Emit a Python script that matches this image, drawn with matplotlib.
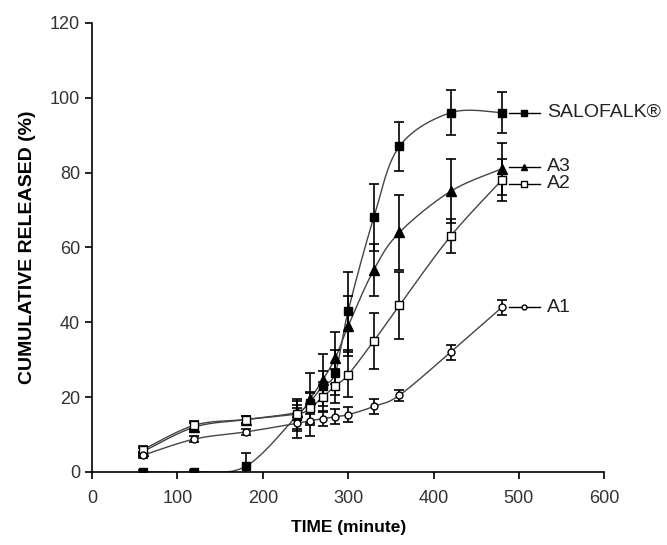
import numpy as np
import matplotlib.pyplot as plt

plt.rcParams['font.family'] = ['Liberation Sans', 'DejaVu Sans']

# sampling times (minute)
times = [60, 120, 180, 240, 255, 270, 285, 300, 330, 360, 420, 480]

# cumulative release (%) and error bars
salofalk = [0, 0, 1.5, 15, 18.5, 23, 26.5, 43, 68, 87, 96, 96]
salofalk_err = [0.5, 0.5, 3.5, 4, 3, 4, 6, 10.5, 9, 6.5, 6, 5.5]
a3 = [5.5, 12, 14, 16, 19.5, 24.5, 30.5, 39, 54, 64, 75, 81]
a3_err = [1, 1, 1, 2, 7, 7, 7, 8, 7, 10, 8.5, 7]
a2 = [6, 12.5, 14, 15.5, 17, 20, 23, 26, 35, 44.5, 63, 78]
a2_err = [1, 1, 1, 4, 4, 4, 4.5, 6, 7.5, 9, 4.5, 5.5]
a1 = [4.5, 8.8, 10.7, 13, 13.7, 14.2, 14.8, 15.3, 17.5, 20.5, 32, 44]
a1_err = [0.8, 0.8, 0.8, 4, 4, 2, 2, 2, 2, 1.5, 2, 2]

names = ['SALOFALK\u00ae', 'A3', 'A2', 'A1']
label_y = [96, 81.5, 77, 44]


def smooth(x, y, n=30):
    # excel-like smoothed line (catmull-rom as bezier)
    p = np.column_stack([x, y]).astype(float)
    p = np.vstack([p[0], p, p[-1]])
    out = []
    t = np.linspace(0, 1, n)[:, None]
    for i in range(1, len(p) - 2):
        p0 = p[i]
        p3 = p[i + 1]
        c1 = p0 + (p[i + 1] - p[i - 1]) / 6
        c2 = p3 - (p[i + 2] - p[i]) / 6
        seg = (1 - t)**3 * p0 + 3 * (1 - t)**2 * t * c1 + 3 * (1 - t) * t**2 * c2 + t**3 * p3
        out.append(seg)
    out = np.vstack(out)
    return out[:, 0], out[:, 1]


fig = plt.figure(figsize=(6.67, 5.45), dpi=100)
ax = fig.add_axes([0.138, 0.134, 0.768, 0.824])

series = [
    (salofalk, salofalk_err, 's', 'black', 6),
    (a3, a3_err, '^', 'black', 6.5),
    (a2, a2_err, 's', 'white', 6),
    (a1, a1_err, 'o', 'white', 5),
]

for (vals, err, mk, fc, ms), name, ly in zip(series, names, label_y):
    sx, sy = smooth(times, vals)
    ax.plot(sx, sy, color='#444444', lw=1, zorder=2)
    ax.errorbar(times, vals, yerr=err, fmt='none', ecolor='black',
                elinewidth=1.2, capsize=3.5, capthick=1.2, zorder=3)
    ax.plot(times, vals, ls='none', marker=mk, mfc=fc, mec='black',
            mew=1, ms=ms, zorder=4)
    # label at the end of each curve
    lx = times[-1]
    ax.plot([lx + 8, lx + 45], [ly, ly], color='black', lw=1, clip_on=False)
    ax.plot([lx + 26], [ly], ls='none', marker=mk, mfc=fc, mec='black',
            mew=1, ms=ms - 1.5, clip_on=False)
    ax.text(lx + 53, ly, name, fontsize=14, color='#222222',
            va='center', ha='left')

ax.set_xlim(0, 600)
ax.set_ylim(0, 120)
ax.set_xticks(range(0, 601, 100))
ax.set_yticks(range(0, 121, 20))
ax.spines['top'].set_visible(False)
ax.spines['right'].set_visible(False)
ax.spines['left'].set_linewidth(1.2)
ax.spines['bottom'].set_linewidth(1.2)
ax.tick_params(direction='out', length=5, width=1.2, labelsize=13,
               labelcolor='#333333')
ax.tick_params(axis='x', pad=8)
ax.set_xlabel('TIME (minute)', fontsize=12.5, fontweight='bold', labelpad=9)
ax.set_ylabel('CUMULATIVE RELEASED (%)', fontsize=14, fontweight='bold',
              labelpad=10)

fig.savefig('out.png', dpi=100)
